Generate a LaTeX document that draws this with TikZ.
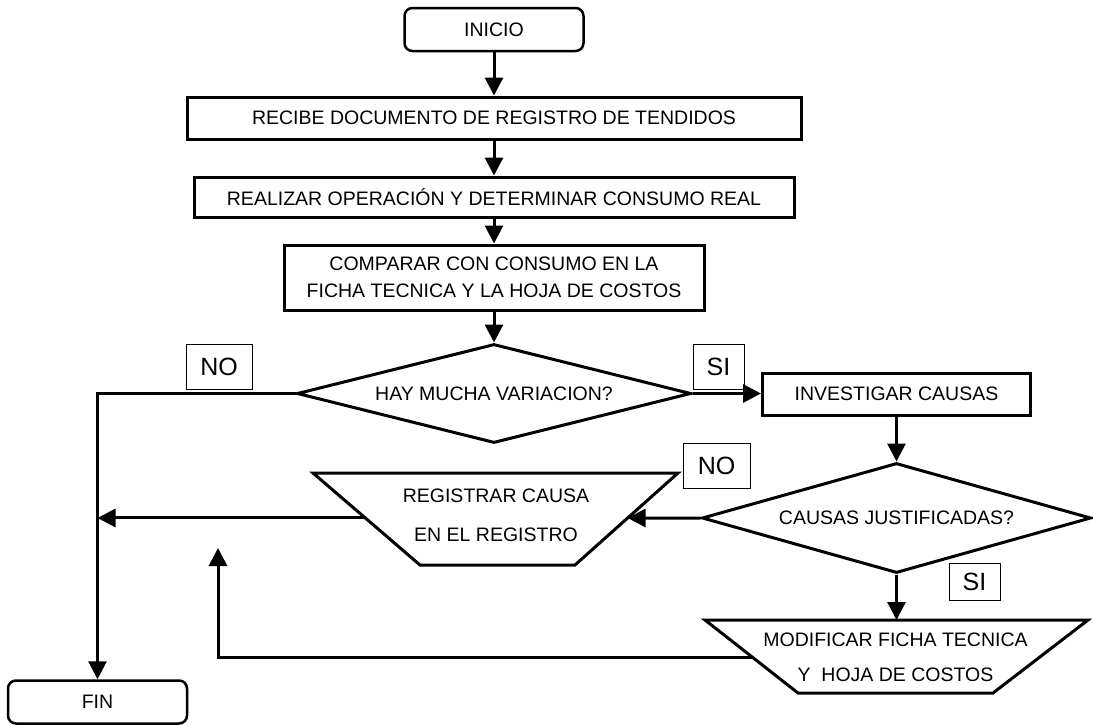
\documentclass[tikz,border=0pt]{standalone}
\usepackage{fontspec}
\setmainfont{Liberation Sans}
\usetikzlibrary{arrows.meta,shapes.geometric,calc}
\begin{document}
\begin{tikzpicture}[x=1pt,y=-1pt,
  every node/.style={font=\fontsize{19.5}{23.4}\selectfont, inner sep=0pt},
  terminal/.style={draw, line width=2.5pt, rounded corners=8pt,
    minimum width=179pt, minimum height=43pt},
  procbox/.style={draw, line width=3pt},
  decision/.style={draw, diamond, aspect=4, line width=3pt},
  tag/.style={draw, line width=0.8pt, font=\fontsize{25}{30}\selectfont},
  outline/.style={line width=3pt, line join=miter},
  flow/.style={line width=3pt, -{Triangle[length=18pt,width=18pt]}},
  ]
\useasboundingbox (0,0) rectangle (1093,724);

% main column
\node[terminal] (inicio) at (494,29.5) {INICIO};
\node[procbox, minimum width=614pt, minimum height=42pt] (recibe) at (494,118)
  {RECIBE DOCUMENTO DE REGISTRO DE TENDIDOS};
\node[procbox, minimum width=600pt, minimum height=40pt] (realizar) at (494,197)
  {REALIZAR OPERACIÓN Y DETERMINAR CONSUMO REAL};
\node[procbox, minimum width=420pt, minimum height=65pt, align=center,
  font=\fontsize{19.5}{27}\selectfont] (comparar) at (494,277.5)
  {COMPARAR CON CONSUMO EN LA\\FICHA TECNICA Y LA HOJA DE COSTOS};
\node[decision, minimum width=394pt, minimum height=99pt] (hay) at (494,393.5)
  {HAY MUCHA VARIACION?};

% right branch
\node[procbox, minimum width=268pt, minimum height=42pt] (invest) at (896.5,394)
  {INVESTIGAR CAUSAS};
\node[decision, minimum width=389pt, minimum height=110pt] (causas) at (896.5,518)
  {CAUSAS JUSTIFICADAS?};

% trapezoid: registrar causa
\coordinate (r1) at (313,473);
\coordinate (r2) at (678,473);
\coordinate (r3) at (575,565);
\coordinate (r4) at (420,565);
\draw[outline] (r1) -- (r2) -- (r3) -- (r4) -- cycle;
\node[align=center, font=\fontsize{19.5}{39}\selectfont] (registrar) at (496,515.5)
  {REGISTRAR CAUSA\\EN EL REGISTRO};

% trapezoid: modificar ficha
\coordinate (m1) at (705,620);
\coordinate (m2) at (1088,620);
\coordinate (m3) at (993,693);
\coordinate (m4) at (798,693);
\draw[outline] (m1) -- (m2) -- (m3) -- (m4) -- cycle;
\node[align=center, font=\fontsize{19.5}{35}\selectfont] (modificar) at (895.5,657.5)
  {MODIFICAR FICHA TECNICA\\Y\ \ HOJA DE COSTOS};

\node[terminal] (fin) at (97.5,702) {FIN};

% answer tags
\node[tag, minimum width=66pt, minimum height=45pt] (no1) at (219,366.5) {NO};
\node[tag, minimum width=51pt, minimum height=45pt] (si1) at (718.5,366.5) {SI};
\node[tag, minimum width=67pt, minimum height=45pt] (no2) at (716.5,465.5) {NO};
\node[tag, minimum width=51pt, minimum height=37pt] (si2) at (974.5,581.5) {SI};

% connection points on the trapezoid sides
\coordinate (rR) at ($(r2)!0.489!(r3)$);
\coordinate (rL) at ($(r1)!0.489!(r4)$);
\coordinate (mT) at (896.5,620);
\coordinate (mL) at ($(m1)!0.507!(m4)$);
\coordinate (back) at (218,548);

% connectors
\draw[flow] (inicio) -- (recibe);
\draw[flow] (recibe) -- (realizar);
\draw[flow] (realizar) -- (comparar);
\draw[flow] (comparar) -- (hay);
\draw[flow] (hay.west) -| (fin.north);
\draw[flow] (hay.east) -- (hay.east -| invest.west);
\draw[flow] (invest) -- (causas);
\draw[flow] (causas.west) -- (rR);
\draw[flow] (rL) -- (rL -| fin.north);
\draw[flow] (causas.south) -- (mT);
\draw[flow] (mL) -| (back);
\end{tikzpicture}
\end{document}
